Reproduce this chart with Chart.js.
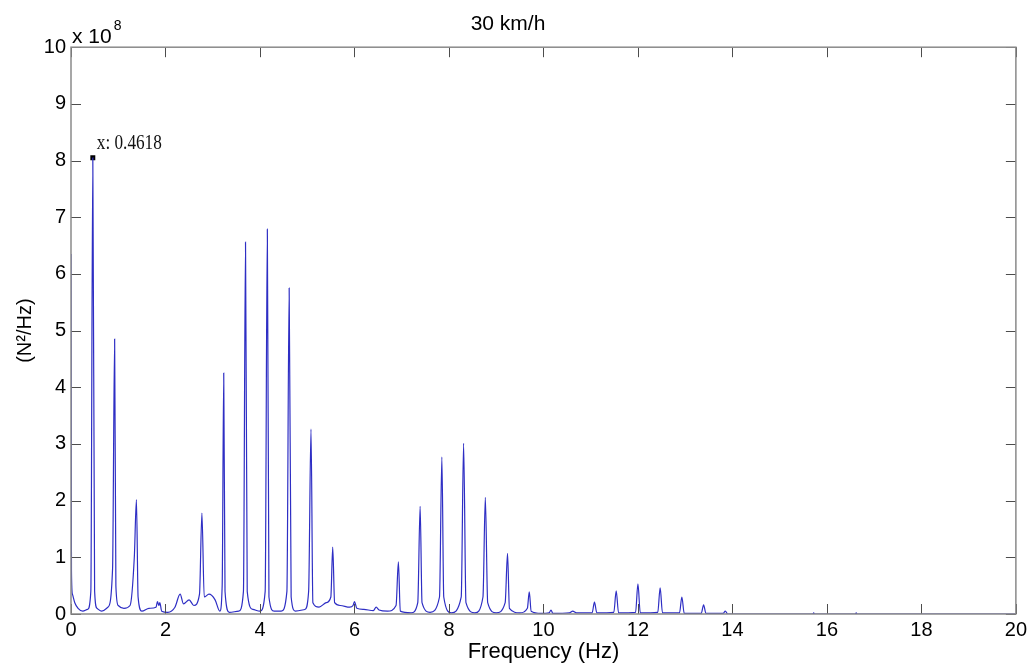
<!DOCTYPE html>
<html>
<head>
<meta charset="utf-8">
<script src="https://cdn.jsdelivr.net/npm/chart.js@4/dist/chart.umd.min.js"></script>
<style>
  html, body { margin: 0; padding: 0; background: #fff; }
  #wrap { width: 1031px; height: 666px; }
</style>
</head>
<body>
<div id="wrap"><canvas id="c" width="1031" height="666"></canvas></div>
<script>
// ---- data (frequency in Hz, PSD in units of 1e8 N^2/Hz) ----
const chartTitle = '30 km/h';
const xTitle = 'Frequency (Hz)';
const yTitle = '(N\u00B2/Hz)';
const yExponent = '8';
const xTickValues = [0, 2, 4, 6, 8, 10, 12, 14, 16, 18, 20];
const yTickValues = [0, 1, 2, 3, 4, 5, 6, 7, 8, 9, 10];

const freqHz = [
  0, 0.01, 0.03, 0.08, 0.15, 0.25, 0.35, 0.42, 0.4618, 0.5,
  0.55, 0.65, 0.78, 0.88, 0.9236, 0.95, 1.0, 1.12, 1.25, 1.34,
  1.385, 1.42, 1.5, 1.65, 1.8, 1.83, 1.86, 1.88, 1.92, 2.05,
  2.2, 2.31, 2.38, 2.5, 2.6, 2.72, 2.771, 2.82, 2.92, 3.05,
  3.15, 3.2, 3.233, 3.26, 3.35, 3.55, 3.65, 3.694, 3.73, 3.85,
  4.0, 4.11, 4.156, 4.19, 4.3, 4.45, 4.57, 4.618, 4.66, 4.75,
  4.95, 5.03, 5.08, 5.12, 5.25, 5.4, 5.5, 5.54, 5.58, 5.7,
  5.9, 5.97, 6.0, 6.05, 6.2, 6.4, 6.46, 6.52, 6.7, 6.88,
  6.93, 6.97, 7.2, 7.34, 7.39, 7.43, 7.6, 7.8, 7.85, 7.89,
  8.05, 8.26, 8.31, 8.36, 8.55, 8.72, 8.77, 8.82, 9.0, 9.19,
  9.24, 9.28, 9.5, 9.66, 9.70, 9.74, 9.95, 10.12, 10.16, 10.2,
  10.55, 10.62, 10.7, 11.03, 11.08, 11.13, 11.49, 11.54, 11.59, 11.95,
  12.0, 12.05, 12.42, 12.47, 12.52, 12.88, 12.93, 12.98, 13.34, 13.39,
  13.44, 13.8, 13.85, 13.9, 15.7, 15.72, 15.74, 16.6, 16.62, 16.64,
  20
];
const psdE8 = [
  6.35, 0.75, 0.35, 0.2, 0.1, 0.05, 0.08, 0.4, 8.05, 0.4,
  0.1, 0.05, 0.12, 0.8, 4.85, 0.5, 0.15, 0.1, 0.15, 1.0,
  2.02, 0.3, 0.05, 0.1, 0.12, 0.22, 0.15, 0.2, 0.05, 0.03,
  0.12, 0.35, 0.18, 0.25, 0.15, 0.35, 1.78, 0.3, 0.35, 0.25,
  0.05, 0.5, 4.25, 0.4, 0.03, 0.05, 0.4, 6.56, 0.4, 0.08,
  0.05, 0.4, 6.79, 0.3, 0.05, 0.05, 0.4, 5.75, 0.3, 0.05,
  0.08, 0.4, 3.26, 0.2, 0.12, 0.2, 0.3, 1.18, 0.2, 0.15,
  0.12, 0.15, 0.22, 0.1, 0.08, 0.06, 0.12, 0.07, 0.05, 0.15,
  0.92, 0.05, 0.02, 0.2, 1.9, 0.2, 0.03, 0.3, 2.77, 0.3,
  0.02, 0.3, 3.01, 0.2, 0.02, 0.3, 2.06, 0.2, 0.02, 0.2,
  1.07, 0.1, 0.02, 0.1, 0.39, 0.05, 0.01, 0.02, 0.07, 0.01,
  0.02, 0.05, 0.02, 0.02, 0.21, 0.02, 0.03, 0.41, 0.02, 0.03,
  0.53, 0.02, 0.03, 0.46, 0.02, 0.02, 0.3, 0.01, 0.01, 0.16,
  0.01, 0.01, 0.05, 0.0, 0.0, 0.02, 0.0, 0.0, 0.02, 0.0,
  0.0
];
const tipFreq = 0.4618;
const tipValue = 8.05;
const tipLabel = 'x: 0.4618';

// ---- build chart ----
const spectrum = freqHz.map((f, i) => ({ x: f, y: psdE8[i] }));
const sansFont = "'Liberation Sans', Arial, sans-serif";

const matlabAxes = {
  id: 'matlabAxes',
  afterDatasetsDraw(chart) {
    const { ctx, chartArea: a, scales } = chart;
    const xs = scales.x, ys = scales.y;
    ctx.save();
    // inner tick marks
    ctx.strokeStyle = '#4d4d4d';
    ctx.lineWidth = 1;
    const L = 10;
    ctx.beginPath();
    xTickValues.forEach(v => {
      const px = Math.round(xs.getPixelForValue(v)) + 0.5;
      ctx.moveTo(px, a.bottom); ctx.lineTo(px, a.bottom - L);
      ctx.moveTo(px, a.top); ctx.lineTo(px, a.top + L);
    });
    yTickValues.forEach(v => {
      const py = Math.round(ys.getPixelForValue(v)) + 0.5;
      ctx.moveTo(a.left, py); ctx.lineTo(a.left + L, py);
      ctx.moveTo(a.right, py); ctx.lineTo(a.right - L, py);
    });
    ctx.stroke();
    // box
    ctx.strokeStyle = '#8a8a8a';
    ctx.lineWidth = 1.5;
    ctx.strokeRect(a.left, a.top, a.right - a.left, a.bottom - a.top);
    // exponent label
    ctx.fillStyle = '#000';
    ctx.textBaseline = 'alphabetic';
    ctx.textAlign = 'left';
    ctx.font = '21px ' + sansFont;
    ctx.fillText('x 10', a.left + 1, a.top - 4);
    const w = ctx.measureText('x 10').width;
    ctx.font = '14px ' + sansFont;
    ctx.fillText(yExponent, a.left + 3 + w, a.top - 17);
    // data tip label (condensed serif)
    const tx = xs.getPixelForValue(tipFreq);
    const ty = ys.getPixelForValue(tipValue);
    ctx.translate(tx + 4, ty - 9);
    ctx.scale(0.86, 1);
    ctx.font = "20px 'Liberation Serif', 'Times New Roman', serif";
    ctx.fillStyle = '#111';
    ctx.fillText(tipLabel, 0, 0);
    ctx.restore();
  }
};

new Chart(document.getElementById('c'), {
  type: 'line',
  data: {
    datasets: [
      {
        data: spectrum,
        borderColor: '#2e2ec4',
        borderWidth: 1.2,
        pointRadius: 0,
        cubicInterpolationMode: 'monotone',
        fill: false
      },
      {
        data: [{ x: tipFreq, y: tipValue }],
        showLine: false,
        pointStyle: 'rect',
        pointRadius: 3.5,
        backgroundColor: '#000',
        borderColor: '#000',
        borderWidth: 0
      }
    ]
  },
  options: {
    responsive: false,
    animation: false,
    events: [],
    layout: { padding: { left: 0, right: 15, top: 0, bottom: 0 } },
    plugins: {
      legend: { display: false },
      tooltip: { enabled: false },
      title: {
        display: true,
        text: chartTitle,
        color: '#000',
        font: { family: sansFont, size: 21, weight: 'normal', lineHeight: 1.2 },
        padding: { top: 12, bottom: 10 }
      }
    },
    scales: {
      x: {
        type: 'linear',
        min: 0, max: 20,
        grid: { display: false, drawTicks: false },
        border: { display: false },
        afterBuildTicks(s) { s.ticks = xTickValues.map(v => ({ value: v })); },
        afterFit(s) { s.height = 52; },
        ticks: {
          color: '#000',
          padding: 4,
          maxRotation: 0,
          autoSkip: false,
          font: { family: sansFont, size: 20 }
        },
        title: {
          display: true,
          text: xTitle,
          color: '#000',
          font: { family: sansFont, size: 22, lineHeight: 1.2 },
          padding: { top: 0, bottom: 1 }
        }
      },
      y: {
        type: 'linear',
        min: 0, max: 10,
        grid: { display: false, drawTicks: false },
        border: { display: false },
        afterBuildTicks(s) { s.ticks = yTickValues.map(v => ({ value: v })); },
        afterFit(s) { s.width = 71; },
        ticks: {
          color: '#000',
          padding: 5,
          autoSkip: false,
          font: { family: sansFont, size: 20 }
        },
        title: {
          display: true,
          text: yTitle,
          color: '#000',
          font: { family: sansFont, size: 20, lineHeight: 1.2 },
          padding: { top: 13, bottom: 0 }
        }
      }
    }
  },
  plugins: [matlabAxes]
});
</script>
</body>
</html>
